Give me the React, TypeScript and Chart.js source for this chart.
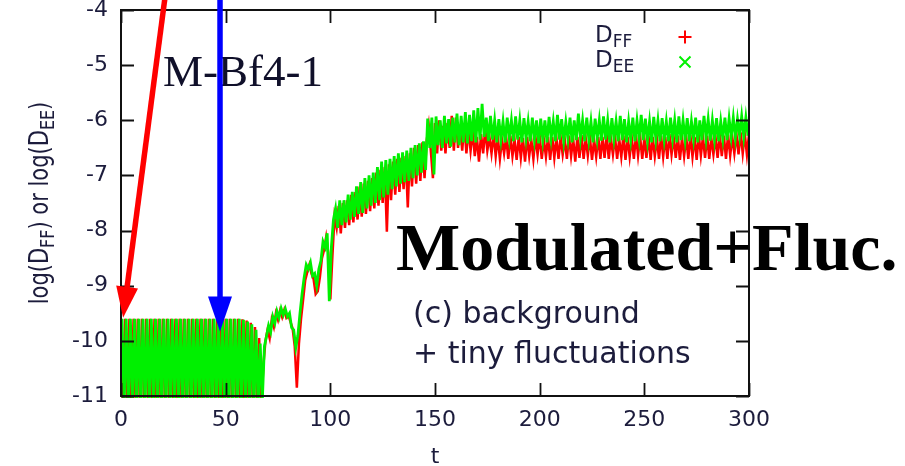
import React, { useEffect, useRef } from "react";
import { Chart, registerables } from "chart.js";

Chart.register(...registerables);

// Axis ticks
const xTickValues = [0, 50, 100, 150, 200, 250, 300];
const yTickValues = [-11, -10, -9, -8, -7, -6, -5, -4];

// log(D_FF), sampled at t = 0, 1, 2, ... 300
const ffValues = [
  -9.6, -11.2, -9.6, -11.2, -9.6, -11.2, -9.6, -11.2, -9.6, -11.2,
  -9.6, -11.2, -9.6, -11.2, -9.6, -11.2, -9.6, -11.2, -9.6, -11.2,
  -9.6, -11.2, -9.6, -11.2, -9.6, -11.2, -9.6, -11.2, -9.6, -11.2,
  -9.6, -11.2, -9.6, -11.2, -9.6, -11.2, -9.6, -11.2, -9.6, -11.2,
  -9.6, -11.2, -9.6, -11.2, -9.6, -11.2, -9.6, -11.2, -9.6, -11.2,
  -9.6, -11.2, -9.6, -11.2, -9.6, -11.2, -9.6, -11.2, -9.61, -11.2,
  -9.63, -11.2, -9.67, -11.2, -9.75, -11.2, -9.95, -11.2, -10.45, -10.0,
  -9.8, -9.95, -9.62, -9.75, -9.5, -9.62, -9.45, -9.57, -9.44, -9.58,
  -9.54, -9.66, -9.78, -10.1, -10.85, -10.05, -9.6, -9.25, -8.9, -8.75,
  -8.62, -8.78, -8.88, -9.15, -9.1, -8.85, -8.5, -8.35, -8.12, -8.4,
  -9.25, -8.45, -7.75, -7.95, -7.55, -8.05, -7.5, -7.95, -7.45, -7.9,
  -7.35, -7.85, -7.3, -7.8, -7.2, -7.75, -7.15, -7.7, -7.1, -7.65,
  -7.05, -7.6, -6.95, -7.55, -6.9, -7.5, -6.85, -8.02, -6.8, -7.45,
  -6.75, -7.35, -6.7, -7.3, -6.68, -7.25, -6.65, -7.58, -6.6, -7.2,
  -6.5, -7.15, -6.45, -7.1, -6.4, -7.05, -6.38, -6.1, -6.55, -7.05,
  -6.05, -6.6, -6.0, -6.55, -6.1, -6.6, -6.05, -6.5, -5.92, -6.55,
  -5.95, -6.5, -6.1, -6.55, -6.05, -6.6, -6.15, -6.55, -6.2, -6.65,
  -6.3, -6.75, -6.25, -6.6, -6.15, -6.55, -6.3, -6.6, -6.25, -6.65,
  -6.3, -6.7, -6.35, -6.6, -6.3, -6.7, -6.28, -6.65, -6.35, -6.72,
  -6.3, -6.68, -6.32, -6.75, -6.3, -6.65, -6.35, -6.7, -6.3, -6.62,
  -6.28, -6.7, -6.35, -6.66, -6.3, -6.72, -6.3, -6.68, -6.32, -6.7,
  -6.3, -6.62, -6.35, -6.7, -6.28, -6.65, -6.33, -6.75, -6.3, -6.68,
  -6.27, -6.7, -6.32, -6.64, -6.3, -6.72, -6.35, -6.66, -6.3, -6.7,
  -6.3, -6.68, -6.26, -6.7, -6.32, -6.62, -6.3, -6.7, -6.34, -6.66,
  -6.28, -6.72, -6.3, -6.66, -6.32, -6.7, -6.27, -6.64, -6.3, -6.7,
  -6.32, -6.68, -6.28, -6.72, -6.3, -6.65, -6.33, -6.7, -6.28, -6.66,
  -6.3, -6.7, -6.25, -6.62, -6.3, -6.68, -6.28, -6.72, -6.32, -6.65,
  -6.3, -6.7, -6.27, -6.66, -6.3, -6.72, -6.26, -6.64, -6.3, -6.68,
  -6.28, -6.7, -6.32, -6.62, -6.3, -6.68, -6.25, -6.65, -6.28, -6.7,
  -6.26, -6.64, -6.3, -6.6, -6.25, -6.62, -6.22, -6.6, -6.25, -6.62,
  -6.25,
];

// log(D_EE), sampled at t = 0.5, 1.5, 2.5, ... 299.5
const eeValues = [
  -9.6, -11.2, -9.6, -11.2, -9.6, -11.2, -9.6, -11.2, -9.6, -11.2,
  -9.6, -11.2, -9.6, -11.2, -9.6, -11.2, -9.6, -11.2, -9.6, -11.2,
  -9.6, -11.2, -9.6, -11.2, -9.6, -11.2, -9.6, -11.2, -9.6, -11.2,
  -9.6, -11.2, -9.6, -11.2, -9.6, -11.2, -9.6, -11.2, -9.6, -11.2,
  -9.6, -11.2, -9.6, -11.2, -9.6, -11.2, -9.6, -11.2, -9.6, -11.2,
  -9.6, -11.2, -9.6, -11.2, -9.6, -11.2, -9.6, -11.2, -9.62, -11.2,
  -9.65, -11.2, -9.7, -11.2, -9.8, -11.2, -10.05, -11.1, -10.1, -9.92,
  -9.72, -9.84, -9.56, -9.68, -9.46, -9.58, -9.41, -9.53, -9.42, -9.56,
  -9.5, -9.76, -9.8, -10.12, -9.9, -9.5, -9.15, -8.85, -8.62, -8.7,
  -8.58, -8.82, -8.78, -9.0, -8.7, -8.55, -8.2, -8.3, -8.05, -9.28,
  -8.3, -7.8, -7.6, -7.95, -7.45, -7.9, -7.45, -7.85, -7.35, -7.8,
  -7.3, -7.75, -7.2, -7.7, -7.12, -7.68, -7.05, -7.6, -7.0, -7.55,
  -6.95, -7.5, -6.85, -7.45, -6.75, -7.4, -6.72, -7.35, -6.7, -7.25,
  -6.65, -7.2, -6.6, -7.15, -6.58, -7.12, -6.55, -7.1, -6.5, -7.05,
  -6.45, -7.0, -6.42, -6.95, -6.38, -6.9, -5.97, -6.5, -5.95, -6.98,
  -5.93, -6.45, -6.0, -6.5, -5.92, -6.42, -5.98, -6.48, -5.95, -6.4,
  -5.88, -6.45, -5.92, -6.4, -5.85, -6.42, -5.9, -6.38, -5.82, -6.4,
  -5.78, -6.35, -5.7, -6.3, -5.95, -6.38, -5.92, -6.35, -6.0, -6.4,
  -5.98, -6.35, -6.02, -6.4, -5.95, -6.32, -6.0, -6.38, -5.93, -6.35,
  -6.0, -6.4, -5.96, -6.33, -6.02, -6.38, -5.95, -6.35, -6.0, -6.42,
  -5.97, -6.36, -6.0, -6.4, -5.94, -6.33, -6.02, -6.38, -5.9, -6.35,
  -5.98, -6.38, -6.03, -6.34, -5.95, -6.4, -6.0, -6.36, -5.88, -6.32,
  -6.0, -6.38, -5.95, -6.35, -6.02, -6.4, -5.97, -6.33, -6.0, -6.37,
  -5.93, -6.35, -6.0, -6.4, -5.96, -6.34, -6.02, -6.38, -5.92, -6.36,
  -5.98, -6.4, -6.02, -6.35, -5.95, -6.38, -6.0, -6.33, -5.9, -6.36,
  -5.97, -6.37, -6.02, -6.4, -5.94, -6.34, -6.0, -6.38, -5.96, -6.35,
  -6.02, -6.38, -5.95, -6.33, -6.0, -6.4, -5.93, -6.36, -6.0, -6.35,
  -5.96, -6.38, -6.02, -6.34, -5.95, -6.4, -6.0, -6.36, -5.92, -6.33,
  -5.98, -6.37, -6.0, -6.35, -5.96, -6.38, -6.02, -6.34, -5.95, -6.36,
  -5.97, -6.3, -5.95, -6.32, -5.98, -6.28, -5.93, -6.3, -5.95, -6.28,
];

// sampling grids (time of each sample)
const ffTimes = ffValues.map((_, i) => i);
const eeTimes = eeValues.map((_, i) => i + 0.5);

// Annotation arrows, in data coordinates [t, value]
const redArrow = { from: [21.5, -3.63], to: [1.0, -9.58] };
const blueArrow = { from: [47.3, -3.63], to: [47.3, -9.83] };

const RED = "#ff0000";
const GREEN = "#00f000";
const TEXT = "#1c1c3c";

function drawArrow(ctx: CanvasRenderingContext2D, x0: number, y0: number, x1: number, y1: number, color: string, lw: number, headLen: number, headHalf: number) {
  const dx = x1 - x0, dy = y1 - y0;
  const len = Math.hypot(dx, dy);
  const ux = dx / len, uy = dy / len;
  const bx = x1 - ux * headLen, by = y1 - uy * headLen;
  ctx.save();
  ctx.strokeStyle = color;
  ctx.fillStyle = color;
  ctx.lineWidth = lw;
  ctx.lineCap = "butt";
  ctx.beginPath();
  ctx.moveTo(x0, y0);
  ctx.lineTo(bx + ux * 2, by + uy * 2);
  ctx.stroke();
  ctx.beginPath();
  ctx.moveTo(x1, y1);
  ctx.lineTo(bx - uy * headHalf, by + ux * headHalf);
  ctx.lineTo(bx + uy * headHalf, by - ux * headHalf);
  ctx.closePath();
  ctx.fill();
  ctx.restore();
}

function drawSubText(ctx: CanvasRenderingContext2D, parts: [string, boolean][], x: number, y: number, size: number, subSize: number, subShift: number) {
  let cx = x;
  for (const [txt, sub] of parts) {
    ctx.font = `${sub ? subSize : size}px "DejaVu Sans"`;
    ctx.fillText(txt, cx, sub ? y + subShift : y);
    cx += ctx.measureText(txt).width;
  }
  return cx - x;
}

function measureSubText(ctx: CanvasRenderingContext2D, parts: [string, boolean][], size: number, subSize: number) {
  let w = 0;
  for (const [txt, sub] of parts) {
    ctx.font = `${sub ? subSize : size}px "DejaVu Sans"`;
    w += ctx.measureText(txt).width;
  }
  return w;
}

const overlayPlugin = {
  id: "overlay",
  afterDatasetsDraw(chart: any) {
    const { ctx, chartArea: a, scales } = chart;
    const xs = scales.x, ys = scales.y;
    ctx.save();
    // frame
    ctx.strokeStyle = "#111";
    ctx.lineWidth = 2;
    ctx.strokeRect(a.left, a.top, a.right - a.left, a.bottom - a.top);
    // inner ticks (mirrored)
    ctx.lineWidth = 1.8;
    const tl = 13;
    ctx.beginPath();
    for (const v of xTickValues) {
      const px = Math.round(xs.getPixelForValue(v)) + 0.5;
      ctx.moveTo(px, a.bottom);
      ctx.lineTo(px, a.bottom - tl);
      ctx.moveTo(px, a.top);
      ctx.lineTo(px, a.top + tl);
    }
    for (const v of yTickValues) {
      const py = Math.round(ys.getPixelForValue(v)) + 0.5;
      ctx.moveTo(a.left, py);
      ctx.lineTo(a.left + tl, py);
      ctx.moveTo(a.right, py);
      ctx.lineTo(a.right - tl, py);
    }
    ctx.stroke();
    ctx.restore();
  },
  afterDraw(chart: any) {
    const { ctx, chartArea: a, scales } = chart;
    const xs = scales.x, ys = scales.y;
    ctx.save();
    ctx.fillStyle = TEXT;
    ctx.textBaseline = "alphabetic";
    ctx.textAlign = "left";

    // x-axis title
    ctx.font = '22px "DejaVu Sans"';
    ctx.textAlign = "center";
    ctx.fillText("t", (a.left + a.right) / 2, 463);
    ctx.textAlign = "left";

    // y-axis title (rotated, with subscripts)
    const yParts: [string, boolean][] = [["log(D", false], ["FF", true], [") or log(D", false], ["EE", true], [")", false]];
    const tw = measureSubText(ctx, yParts, 21, 16);
    ctx.save();
    ctx.translate(48, 203);
    ctx.rotate(-Math.PI / 2);
    ctx.scale(1, 1.25);
    drawSubText(ctx, yParts, -tw / 2, 0, 21, 16, 5);
    ctx.restore();

    // legend
    drawSubText(ctx, [["D", false], ["FF", true]], 595, 42, 23, 17, 5);
    drawSubText(ctx, [["D", false], ["EE", true]], 595, 67, 23, 17, 5);
    ctx.strokeStyle = RED;
    ctx.lineWidth = 2;
    ctx.beginPath();
    ctx.moveTo(678.5, 37); ctx.lineTo(691.5, 37);
    ctx.moveTo(685, 30.5); ctx.lineTo(685, 43.5);
    ctx.stroke();
    ctx.strokeStyle = GREEN;
    ctx.beginPath();
    ctx.moveTo(679.5, 56.5); ctx.lineTo(690.5, 67.5);
    ctx.moveTo(690.5, 56.5); ctx.lineTo(679.5, 67.5);
    ctx.stroke();

    // panel annotation
    ctx.fillStyle = TEXT;
    ctx.font = '30px "DejaVu Sans"';
    ctx.fillText("(c) background", 413, 323);
    ctx.fillText("+ tiny fluctuations", 413, 363);

    // labels
    ctx.fillStyle = "#10102a";
    ctx.font = '45px "Liberation Serif"';
    ctx.fillText("M-Bf4-1", 163, 86);
    ctx.fillStyle = "#000";
    ctx.font = 'bold 68px "Liberation Serif"';
    ctx.fillText("Modulated+Fluc.", 396, 270);

    // arrows
    const px = (t: number) => xs.getPixelForValue(t);
    const py = (v: number) => ys.getPixelForValue(v);
    drawArrow(ctx, px(redArrow.from[0]), py(redArrow.from[1]), px(redArrow.to[0]), py(redArrow.to[1]), RED, 5.5, 31, 11);
    drawArrow(ctx, px(blueArrow.from[0]), py(blueArrow.from[1]), px(blueArrow.to[0]), py(blueArrow.to[1]), "#0000ff", 5.5, 35, 12);
    ctx.restore();
  },
};

export default function App() {
  const ref = useRef<HTMLCanvasElement | null>(null);
  useEffect(() => {
    if (!ref.current) return;
    const chart = new Chart(ref.current, {
      type: "line",
      data: {
        datasets: [
          {
            label: "D_EE",
            data: eeTimes.map((t, i) => ({ x: t, y: eeValues[i] })),
            borderColor: GREEN,
            backgroundColor: GREEN,
            borderWidth: 2.8,
            pointRadius: 0,
            tension: 0,
            order: 0,
            clip: { left: 0, top: 0, right: 0, bottom: 2 },
          },
          {
            label: "D_FF",
            data: ffTimes.map((t, i) => ({ x: t, y: ffValues[i] })),
            borderColor: RED,
            backgroundColor: RED,
            borderWidth: 2.5,
            pointRadius: 0,
            tension: 0,
            order: 1,
            clip: { left: 0, top: 0, right: 0, bottom: 2 },
          },
        ],
      },
      options: {
        animation: false,
        responsive: false,
        devicePixelRatio: 1,
        parsing: false as any,
        layout: { padding: { top: 10, right: 156, left: 0, bottom: 0 } },
        plugins: { legend: { display: false }, tooltip: { enabled: false } },
        scales: {
          x: {
            type: "linear",
            min: 0,
            max: 300,
            afterBuildTicks: (s: any) => { s.ticks = xTickValues.map((v) => ({ value: v })); },
            afterFit: (s: any) => { s.height = 70; s.paddingLeft = 0; s.paddingRight = 0; },
            ticks: { color: TEXT, font: { family: "DejaVu Sans", size: 22 }, padding: 11, maxRotation: 0, autoSkip: false },
            grid: { display: false, drawTicks: false },
            border: { display: false },
          },
          y: {
            type: "linear",
            min: -11,
            max: -4,
            afterBuildTicks: (s: any) => { s.ticks = yTickValues.map((v) => ({ value: v })); },
            afterFit: (s: any) => { s.width = 121; s.paddingTop = 0; s.paddingBottom = 0; },
            ticks: { color: TEXT, font: { family: "DejaVu Sans", size: 22 }, padding: 13, autoSkip: false },
            grid: { display: false, drawTicks: false },
            border: { display: false },
          },
        },
      },
      plugins: [overlayPlugin],
    });
    return () => chart.destroy();
  }, []);
  return (
    <div style={{ position: "absolute", left: 0, top: 0, width: 905, height: 466, background: "#fff" }}>
      <canvas ref={ref} width={905} height={466} style={{ width: 905, height: 466 }} />
    </div>
  );
}
